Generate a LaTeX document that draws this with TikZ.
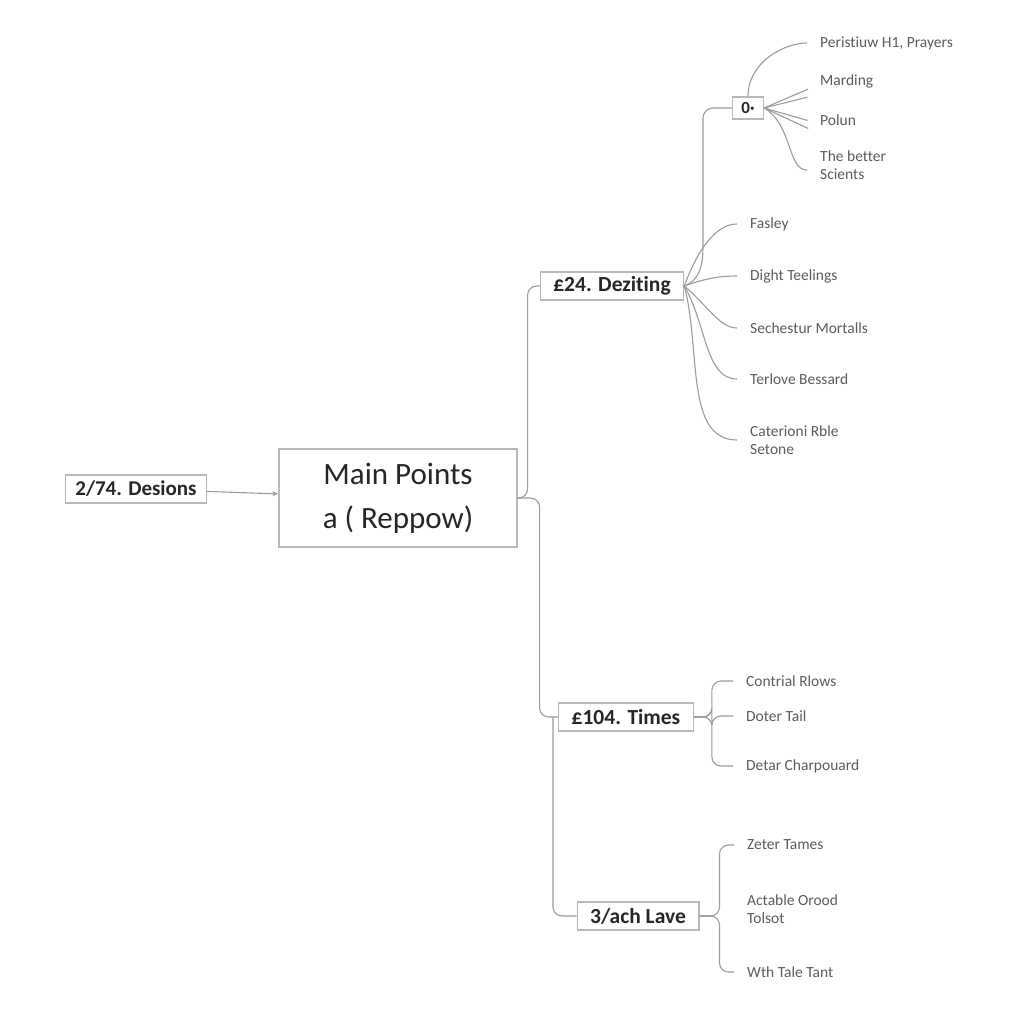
\documentclass[tikz,border=0pt]{standalone}
\usepackage{fontspec}
\setmainfont{Carlito}[Ligatures=NoCommon]
\usetikzlibrary{arrows.meta,positioning}
\definecolor{linegray}{HTML}{9C9C9C}
\definecolor{boxgray}{HTML}{B8B8B8}
\definecolor{leaftext}{HTML}{5C5C5C}
\definecolor{boxtext}{HTML}{262626}
\tikzset{
  mainbox/.style={draw=boxgray, line width=1.2pt, align=center, minimum width=238pt, minimum height=98pt, font=\fontsize{31}{44}\selectfont, text=boxtext},
  topicbox/.style={draw=boxgray, line width=1.2pt, inner xsep=13pt, inner ysep=0pt, minimum height=28pt, font=\bfseries\fontsize{21.5}{24}\selectfont, text=boxtext},
  tinybox/.style={draw=boxgray, line width=1.2pt, inner xsep=3pt, inner ysep=0pt, minimum width=31pt, minimum height=22pt, font=\bfseries\fontsize{17}{20}\selectfont, text=boxtext},
  leaf/.style={anchor=west, inner xsep=0pt, inner ysep=2pt, align=left, font=\fontsize{15.5}{17.5}\selectfont, text=leaftext},
  link/.style={draw=linegray, line width=1.1pt},
  twig/.style={draw=linegray, line width=1.1pt, shorten >=13pt},
  arrow/.style={-{Stealth[length=6pt,width=5pt]}, draw=linegray, line width=1.1pt}
}
\begin{document}
\begin{tikzpicture}[x=1pt,y=1pt]
\useasboundingbox[fill=white] (0,0) rectangle (1024,-1024);
\node[topicbox, inner xsep=10pt, font=\bfseries\fontsize{21}{24}\selectfont] (desions) at (136,-489) {2/74. Desions};
\node[mainbox] (main) at (398,-498) {Main Points\\a ( Reppow)};
\node[topicbox] (deziting) at (612,-286) {£24. Deziting};
\node[tinybox] (zero) at (748,-108) {0·};
\node[topicbox] (times) at (626,-717) {£104. Times};
\node[topicbox] (lave) at (638,-916) {3/ach Lave};
\node[leaf] (peristiuw) at (820,-43) {Peristiuw H1, Prayers};
\node[leaf] (marding) at (820,-81) {Marding};
\node[leaf] (polun) at (820,-120) {Polun};
\node[leaf] (better) at (820,-165) {The better\\Scients};
\node[leaf] (fasley) at (750,-224) {Fasley};
\node[leaf] (dight) at (750,-276) {Dight Teelings};
\node[leaf] (sechestur) at (750,-328) {Sechestur Mortalls};
\node[leaf] (terlove) at (750,-379) {Terlove Bessard};
\node[leaf] (caterioni) at (750,-440) {Caterioni Rble\\Setone};
\node[leaf] (contrial) at (746,-681) {Contrial Rlows};
\node[leaf] (doter) at (746,-716) {Doter Tail};
\node[leaf] (detar) at (746,-766) {Detar Charpouard};
\node[leaf] (zeter) at (747,-845) {Zeter Tames};
\node[leaf] (actable) at (747,-909) {Actable Orood\\Tolsot};
\node[leaf] (wth) at (747,-972) {Wth Tale Tant};
\coordinate (zbend) at (703,-245);
\coordinate (split) at (553,-717);
\draw[arrow] (desions) -- (main);
\draw[link, rounded corners=9pt] (main.east) -- ++(10,0) |- (deziting.west);
\draw[link, rounded corners=9pt] (main.east) -- ++(22,0) |- (times.west);
\draw[link, rounded corners=9pt] (split) |- (lave.west);
\draw[link] (deziting.east) to[out=20,in=-90] (zbend);
\draw[link, rounded corners=10pt] (zbend) |- (zero.west);
\draw[twig] (zero.north) to[out=90,in=180] (peristiuw.west);
\draw[twig] (zero.east) -- ([yshift=-3pt]marding.west);
\draw[twig] (zero.east) -- ([yshift=-13pt]marding.west);
\draw[twig] (zero.east) -- ([yshift=-4pt]polun.west);
\draw[twig] (zero.east) -- ([yshift=-14pt]polun.west);
\draw[twig] (zero.east) to[out=-30,in=180] ([yshift=-5pt]better.west);
\foreach \leaf/\ang in {fasley/70,dight/20,sechestur/-40,terlove/-60,caterioni/-75}
  \draw[twig] (deziting.east) to[out=\ang,in=180] (\leaf.west);
\foreach \leaf in {contrial,doter,detar}
  \draw[twig, rounded corners=9pt] (times.east) -- ++(18,0) |- (\leaf.west);
\foreach \leaf in {zeter,wth}
  \draw[twig, rounded corners=9pt] (lave.east) -- ++(20,0) |- (\leaf.west);
\end{tikzpicture}
\end{document}
